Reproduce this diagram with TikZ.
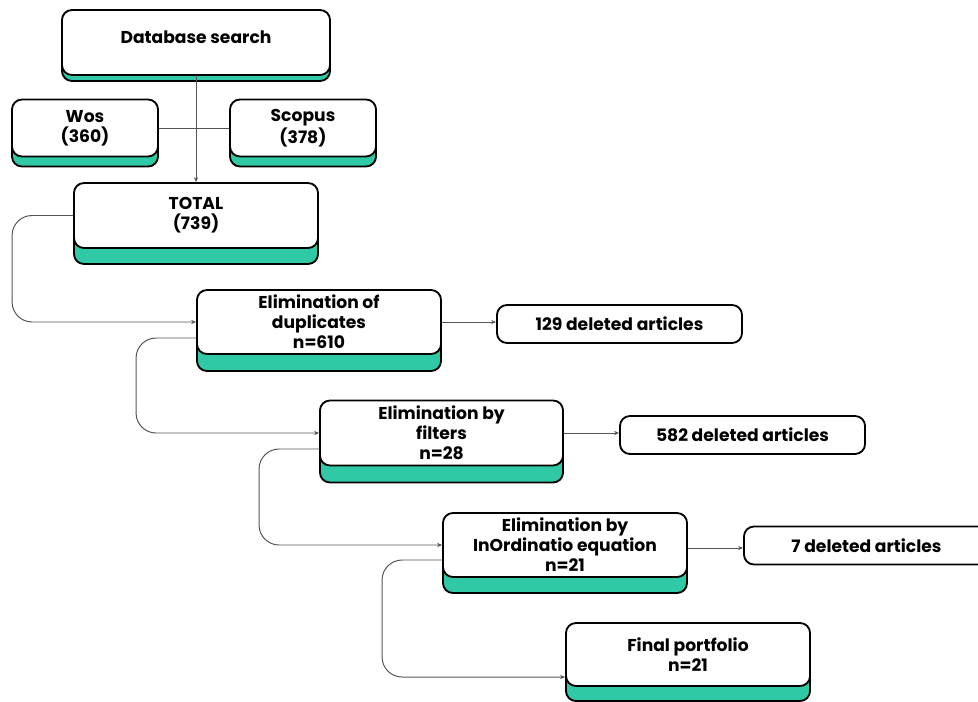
\documentclass[tikz,border=0pt]{standalone}
\usepackage{fontspec}
\setmainfont{Poppins}
\usepackage{tikz}
\usetikzlibrary{arrows.meta,shadows,calc}

\definecolor{mint}{RGB}{48,201,165}
\definecolor{wire}{RGB}{85,85,85}

\begin{document}
\begin{tikzpicture}[
    x=0.025cm, y=-0.025cm,
    font=\fontsize{12.2}{14.3}\selectfont\bfseries,
    box/.style={draw=black, line width=1.3pt, fill=white, rounded corners=0.25cm,
      align=center, inner sep=2pt},
    stage/.style={box, general shadow={draw=black, line width=1.3pt, fill=mint, shadow yshift=-#1}},
    gone/.style={box, minimum width=6.125cm, minimum height=0.95cm},
    conn/.style={draw=wire, line width=0.7pt, -{Stealth[length=3.5pt,width=3pt]}},
    link/.style={conn, rounded corners=0.5cm},
  ]
    \useasboundingbox (0,0) rectangle (978,702);

    % top level
    \node[stage=0.15cm, minimum width=6.7cm, minimum height=1.625cm] (db) at (196,42.5) {};
    \node (dbtext) at (196,37) {Database search};
    \node[stage=0.25cm, minimum width=3.65cm, minimum height=1.425cm] (wos) at (85,128) {Wos\\(360)};
    \node[stage=0.25cm, minimum width=3.65cm, minimum height=1.425cm] (scopus) at (303,128) {Scopus\\(378)};
    \node[stage=0.4cm, minimum width=6.1cm, minimum height=1.625cm] (total) at (196,215.5) {TOTAL\\(739)};

    % screening steps
    \node[stage=0.425cm, minimum width=6.1cm, minimum height=1.6cm] (dup) at (319,322)
      {Elimination of\\duplicates\\n=610};
    \node[stage=0.425cm, minimum width=6.075cm, minimum height=1.625cm] (filt) at (441.5,433)
      {Elimination by\\filters\\n=28};
    \node[stage=0.4cm, minimum width=6.1cm, minimum height=1.6cm] (ordi) at (565,545)
      {Elimination by\\InOrdinatio equation\\n=21};
    \node[stage=0.375cm, minimum width=6.1cm, minimum height=1.575cm] (final) at (688,654.5)
      {Final portfolio\\n=21};

    % removed articles
    \node[gone] (d129) at (619.5,324) {129 deleted articles};
    \node[gone] (d582) at (742.5,435) {582 deleted articles};
    \node[gone] (d7)   at (866.5,545.5) {7 deleted articles};

    \draw[conn] (db.south) -- (total.north);
    \draw[draw=wire, line width=0.7pt] (wos.east) -- (scopus.west);

    \draw[link] (total.west) -- ++(-61,0) |- (dup.west);
    \draw[link] ($(dup.west)+(0,16)$) -- ++(-60,0) |- (filt.west);
    \draw[link] ($(filt.west)+(0,16)$) -- ++(-60,0) |- (ordi.west);
    \draw[link] ($(ordi.west)+(0,15)$) -- ++(-60,0) |- ($(final.west)+(0,22.5)$);

    \draw[conn] (dup.east) -- (dup.east -| d129.west);
    \draw[conn] (filt.east) -- (filt.east -| d582.west);
    \draw[conn] ($(ordi.east)+(0,3)$) -- ($(ordi.east -| d7.west)+(0,3)$);
  \end{tikzpicture}
\end{document}
